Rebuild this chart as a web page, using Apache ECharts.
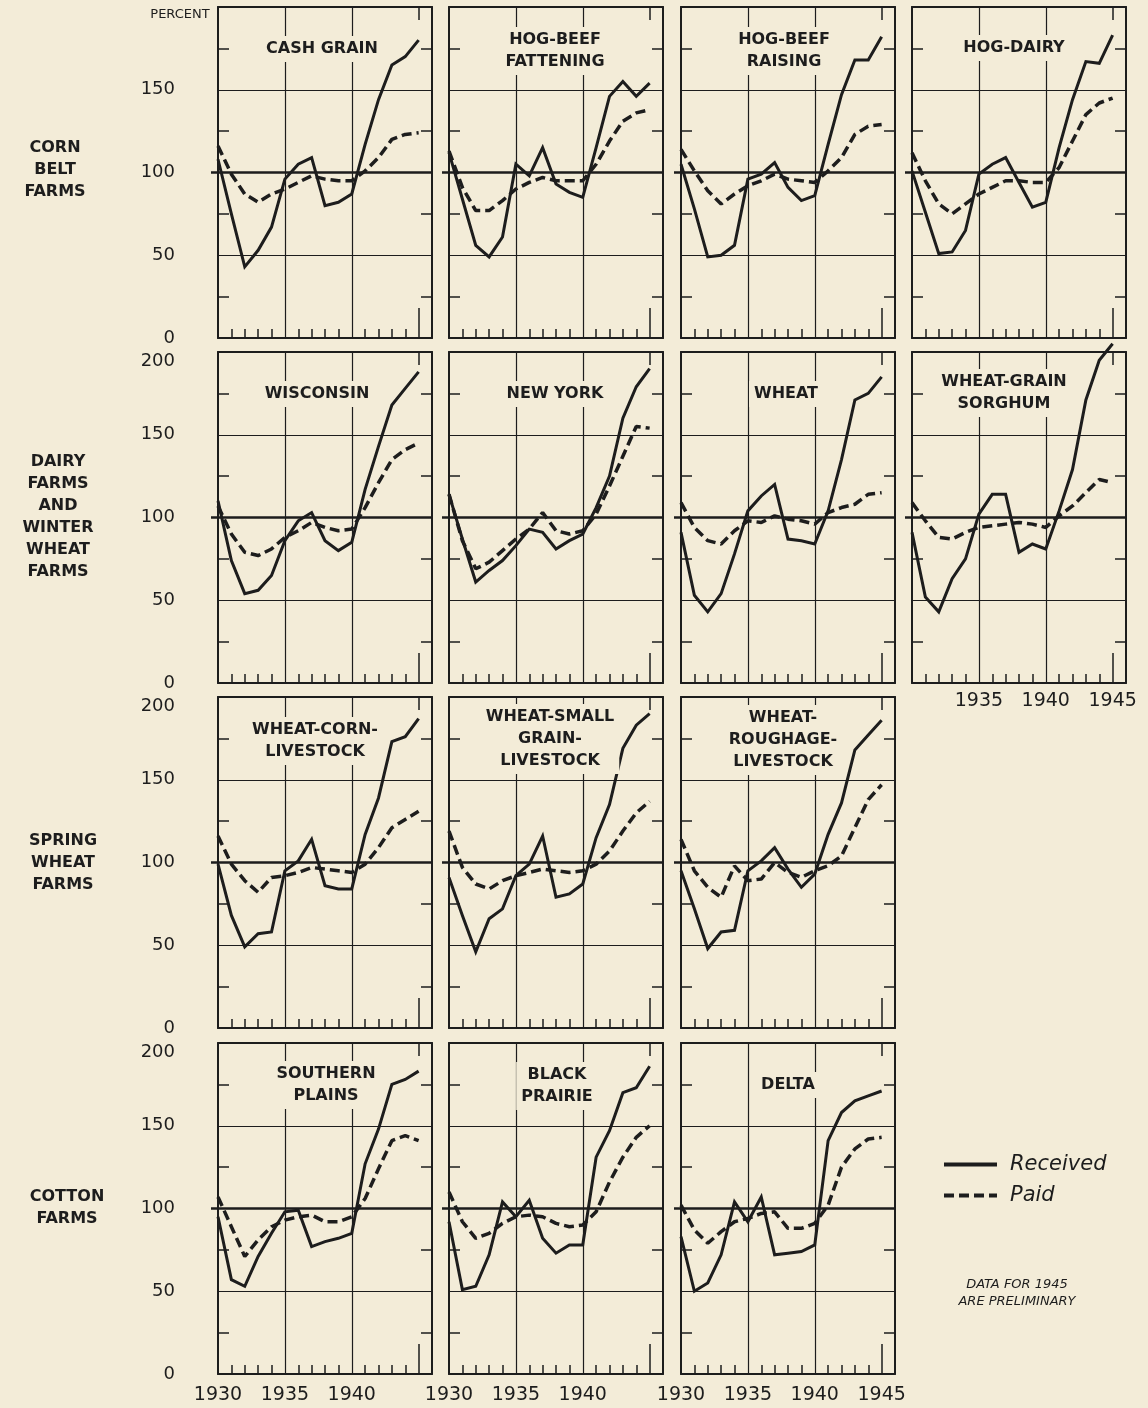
<!DOCTYPE html>
<html>
<head>
<meta charset="utf-8">
<script src="https://cdn.jsdelivr.net/npm/echarts@6/dist/echarts.min.js"></script>
<style>
html,body{margin:0;padding:0;background:#f3ecd8;}
#chart{width:1148px;height:1408px;}
</style>
</head>
<body>
<div id="chart"></div>
<script>
// ---------------- DATA ----------------
const years = [1930,1931,1932,1933,1934,1935,1936,1937,1938,1939,1940,1941,1942,1943,1944,1945];

const cashGrainReceived = [108, 75, 43, 53, 67, 96, 105, 109, 80, 82, 87, 117, 144, 165, 170, 180];
const cashGrainPaid     = [116, 99, 87, 82, 87, 90, 94, 98, 96, 95, 95, 101, 109, 120, 123, 124];

const hogBeefFatteningReceived = [112, 84, 56, 49, 61, 105, 98, 115, 93, 88, 85, 115, 146, 155, 146, 154];
const hogBeefFatteningPaid     = [113, 91, 77, 77, 83, 90, 94, 97, 95, 95, 95, 105, 119, 131, 136, 138];

const hogBeefRaisingReceived = [105, 78, 49, 50, 56, 96, 99, 106, 91, 83, 86, 117, 147, 168, 168, 182];
const hogBeefRaisingPaid     = [114, 101, 89, 81, 87, 92, 95, 99, 96, 95, 94, 101, 109, 123, 128, 129];

const hogDairyReceived = [101, 76, 51, 52, 65, 99, 105, 109, 94, 79, 82, 115, 144, 167, 166, 183];
const hogDairyPaid     = [112, 95, 81, 75, 81, 87, 91, 95, 95, 94, 94, 103, 119, 135, 142, 145];

const wisconsinReceived = [110, 74, 54, 56, 65, 86, 98, 103, 86, 80, 85, 117, 143, 168, 178, 188];
const wisconsinPaid     = [107, 90, 79, 77, 81, 88, 92, 97, 94, 92, 93, 106, 121, 135, 141, 145];

const newYorkReceived = [114, 87, 61, 68, 74, 83, 93, 91, 81, 86, 90, 106, 125, 160, 179, 190];
const newYorkPaid     = [114, 86, 69, 73, 80, 87, 93, 103, 92, 90, 92, 102, 119, 137, 155, 154];

const wheatReceived = [91, 53, 43, 54, 78, 104, 113, 120, 87, 86, 84, 104, 135, 171, 175, 185];
const wheatPaid     = [109, 94, 86, 84, 92, 98, 97, 101, 99, 98, 96, 103, 106, 108, 114, 115];

const wheatGrainSorghumReceived = [91, 52, 43, 63, 75, 102, 114, 114, 79, 84, 81, 104, 129, 171, 195, 205];
const wheatGrainSorghumPaid     = [109, 98, 88, 87, 91, 94, 95, 96, 97, 96, 94, 101, 107, 115, 123, 121];

const wheatCornLivestockReceived = [99, 68, 49, 57, 58, 95, 101, 114, 86, 84, 84, 117, 139, 173, 176, 187];
const wheatCornLivestockPaid     = [116, 99, 89, 82, 91, 92, 94, 97, 96, 95, 94, 99, 109, 121, 126, 131];

const wheatSmallGrainLivestockReceived = [91, 68, 46, 66, 72, 92, 99, 116, 79, 81, 87, 115, 135, 169, 183, 190];
const wheatSmallGrainLivestockPaid     = [119, 97, 87, 84, 89, 92, 94, 96, 95, 94, 95, 99, 107, 119, 130, 137];

const wheatRoughageLivestockReceived = [95, 72, 48, 58, 59, 95, 101, 109, 96, 85, 93, 117, 136, 168, 177, 186];
const wheatRoughageLivestockPaid     = [114, 95, 85, 79, 98, 89, 90, 100, 94, 91, 95, 98, 104, 121, 138, 147];

const southernPlainsReceived = [95, 57, 53, 71, 85, 98, 99, 77, 80, 82, 85, 127, 148, 175, 178, 183];
const southernPlainsPaid     = [107, 89, 71, 81, 89, 93, 95, 96, 92, 92, 95, 106, 124, 141, 144, 141];

const blackPrairieReceived = [92, 51, 53, 72, 104, 95, 105, 82, 73, 78, 78, 131, 147, 170, 173, 186];
const blackPrairiePaid     = [110, 92, 82, 85, 91, 95, 96, 95, 91, 89, 90, 98, 116, 131, 143, 150];

const deltaReceived = [83, 50, 55, 72, 104, 92, 107, 72, 73, 74, 78, 141, 158, 165, 168, 171];
const deltaPaid     = [102, 87, 79, 86, 92, 94, 97, 98, 88, 88, 91, 102, 125, 136, 142, 143];

const panelTitles = [
  'CASH GRAIN', 'HOG-BEEF\nFATTENING', 'HOG-BEEF\nRAISING', 'HOG-DAIRY',
  'WISCONSIN', 'NEW YORK', 'WHEAT', 'WHEAT-GRAIN\nSORGHUM',
  'WHEAT-CORN-\nLIVESTOCK', 'WHEAT-SMALL\nGRAIN-\nLIVESTOCK', 'WHEAT-\nROUGHAGE-\nLIVESTOCK',
  'SOUTHERN\nPLAINS', 'BLACK\nPRAIRIE', 'DELTA'
];
const receivedData = [cashGrainReceived, hogBeefFatteningReceived, hogBeefRaisingReceived, hogDairyReceived,
  wisconsinReceived, newYorkReceived, wheatReceived, wheatGrainSorghumReceived,
  wheatCornLivestockReceived, wheatSmallGrainLivestockReceived, wheatRoughageLivestockReceived,
  southernPlainsReceived, blackPrairieReceived, deltaReceived];
const paidData = [cashGrainPaid, hogBeefFatteningPaid, hogBeefRaisingPaid, hogDairyPaid,
  wisconsinPaid, newYorkPaid, wheatPaid, wheatGrainSorghumPaid,
  wheatCornLivestockPaid, wheatSmallGrainLivestockPaid, wheatRoughageLivestockPaid,
  southernPlainsPaid, blackPrairiePaid, deltaPaid];

const rowLabels = ['CORN\nBELT\nFARMS', 'DAIRY\nFARMS\nAND\nWINTER\nWHEAT\nFARMS', 'SPRING\nWHEAT\nFARMS', 'COTTON\nFARMS'];
const minorTickYears = [1931,1932,1933,1934,1936,1937,1938,1939,1941,1942,1943,1944];
const gridYears = [1935, 1940];
const yMinorTicks = [25, 75, 125, 175];
const yTickLabels = [0, 50, 100, 150];
const yTopLabel = [200];
const yearLabelsA = [1930, 1935, 1940];
const yearLabelsB = [1930, 1935, 1940, 1945];
const yearLabelsC = [1935, 1940, 1945];
const seriesNames = ['Received', 'Paid'];
const noteText = 'DATA FOR 1945\nARE PRELIMINARY';

// ---------------- LAYOUT / STYLE ----------------
const BG = '#f3ecd8';
const INK = '#1d1d1d';
const FONT = '"DejaVu Sans", sans-serif';
const COL_LEFT = [218, 449, 681, 912];
const ROW_TOP = [7, 352, 697, 1043];
const PW = 214, PH = 331;
const panelPos = [[0,0],[0,1],[0,2],[0,3],[1,0],[1,1],[1,2],[1,3],[2,0],[2,1],[2,2],[3,0],[3,1],[3,2]];
const titleDX = [99,101,98,97,94,101,100,87,92,96,97,103,103,102];
const titleDY = [42,33,33,41,42,42,42,30,33,20,21,31,32,42];
const xLabelSets = {13: yearLabelsB, 11: yearLabelsA, 12: yearLabelsA, 7: yearLabelsC};
const rowLabelX = [55, 58, 63, 67];
const rowLabelY = [148, 462, 841, 1197];

const option = {
  backgroundColor: BG,
  animation: false,
  textStyle: {fontFamily: FONT},
  title: [], grid: [], xAxis: [], yAxis: [], series: [],
  legend: {
    data: seriesNames,
    orient: 'vertical',
    left: 937, top: 1149,
    itemWidth: 53, itemHeight: 16, itemGap: 10,
    itemStyle: {opacity: 0},
    lineStyle: {width: 4},
    textStyle: {fontFamily: FONT, fontStyle: 'italic', fontSize: 21, color: INK, padding: [0,0,0,8]},
    selectedMode: false
  },
  graphic: []
};

const yearFmt = v => String(v);

panelTitles.forEach((t, i) => {
  const r = panelPos[i][0], c = panelPos[i][1];
  const left = COL_LEFT[c], top = ROW_TOP[r];
  option.grid.push({left: left, top: top, width: PW, height: PH, containLabel: false});

  const xl = xLabelSets[i] || [];
  const xb = option.xAxis.length;
  option.xAxis.push({
    gridIndex: i, type: 'value', min: 1930, max: 1946, position: 'bottom',
    axisLine: {show: true, onZero: false, lineStyle: {color: INK, width: 2}},
    axisTick: {show: true, inside: true, length: 9, customValues: minorTickYears, lineStyle: {color: INK, width: 1.5}},
    axisLabel: {show: xl.length > 0, customValues: xl, formatter: yearFmt, margin: (i === 7 ? 9 : 12), fontSize: 19, color: INK, fontFamily: FONT},
    splitLine: {show: false}
  });
  option.xAxis.push({
    gridIndex: i, type: 'value', min: 1930, max: 1946, position: 'bottom',
    axisLine: {show: false, onZero: false},
    axisTick: {show: true, inside: true, length: 30, customValues: [1945], lineStyle: {color: INK, width: 1.5}},
    axisLabel: {show: false}, splitLine: {show: false}
  });
  option.xAxis.push({
    gridIndex: i, type: 'value', min: 1930, max: 1946, position: 'top',
    axisLine: {show: true, onZero: false, lineStyle: {color: INK, width: 2}},
    axisTick: {show: true, inside: true, length: 13, customValues: [1945], lineStyle: {color: INK, width: 1.5}},
    axisLabel: {show: false}, splitLine: {show: false}
  });

  const yb = option.yAxis.length;
  option.yAxis.push({
    gridIndex: i, type: 'value', min: 0, max: 200, position: 'left',
    axisLine: {show: true, onZero: false, lineStyle: {color: INK, width: 2}},
    axisTick: {show: true, inside: true, length: 11, customValues: yMinorTicks, lineStyle: {color: INK, width: 1.5}},
    axisLabel: {show: c === 0, customValues: yTickLabels, margin: 43, fontSize: 18, color: INK, fontFamily: FONT},
    splitLine: {show: false}
  });
  option.yAxis.push({
    gridIndex: i, type: 'value', min: 0, max: 200, position: 'right',
    axisLine: {show: true, onZero: false, lineStyle: {color: INK, width: 2}},
    axisTick: {show: true, inside: true, length: 11, customValues: yMinorTicks, lineStyle: {color: INK, width: 1.5}},
    axisLabel: {show: false}, splitLine: {show: false}
  });
  option.yAxis.push({
    gridIndex: i, type: 'value', min: 0, max: 200, position: 'left',
    axisLine: {show: false, onZero: false},
    axisTick: {show: true, inside: false, length: 7, customValues: [100], lineStyle: {color: INK, width: 2.5}},
    axisLabel: {show: c === 0 && r > 0, customValues: yTopLabel, verticalAlign: 'top', margin: 43, fontSize: 18, color: INK, fontFamily: FONT},
    splitLine: {show: false}
  });

  option.title.push({
    text: t,
    left: left + titleDX[i],
    top: top + titleDY[i] - 13,
    textAlign: 'center',
    backgroundColor: BG,
    padding: [2, 5],
    textStyle: {fontFamily: FONT, fontWeight: 'bold', fontSize: 16, lineHeight: 22, color: INK}
  });

  const toPairs = arr => years.map((y, k) => [y, arr[k]]);
  option.series.push({
    name: seriesNames[0], type: 'line', xAxisIndex: xb, yAxisIndex: yb,
    data: toPairs(receivedData[i]), symbol: 'none', showSymbol: false, clip: false, z: 3,
    lineStyle: {color: INK, width: 3, type: 'solid', join: 'miter'},
    itemStyle: {color: INK},
    markLine: {
      silent: true, symbol: ['none', 'none'], z: 1, animation: false,
      label: {show: false},
      lineStyle: {color: INK, width: 1.2, type: 'solid'},
      emphasis: {disabled: true},
      data: [
        {yAxis: 50}, {yAxis: 150},
        {yAxis: 100, lineStyle: {width: 2.6, color: INK, type: 'solid'}},
        {xAxis: gridYears[0]}, {xAxis: gridYears[1]}
      ]
    }
  });
  option.series.push({
    name: seriesNames[1], type: 'line', xAxisIndex: xb, yAxisIndex: yb,
    data: toPairs(paidData[i]), symbol: 'none', showSymbol: false, clip: false, z: 3,
    lineStyle: {color: INK, width: 3.5, type: [10, 5]},
    itemStyle: {color: INK}
  });
});

option.graphic.push({
  type: 'text', x: 180, y: 15,
  style: {text: 'PERCENT', align: 'center', verticalAlign: 'middle', fontSize: 13, fontFamily: FONT, fill: INK}
});
rowLabels.forEach((t, r) => {
  option.graphic.push({
    type: 'text', x: rowLabelX[r], y: rowLabelY[r] - 11,
    style: {text: t, align: 'center', verticalAlign: 'top', fontSize: 16, fontWeight: 'bold', lineHeight: 22, fontFamily: FONT, fill: INK}
  });
});
option.graphic.push({
  type: 'text', x: 1017, y: 1276,
  style: {text: noteText, align: 'center', verticalAlign: 'top', fontSize: 13, fontStyle: 'italic', lineHeight: 17, fontFamily: FONT, fill: INK}
});

const chart = echarts.init(document.getElementById('chart'), null, {renderer: 'canvas'});
chart.setOption(option);
</script>
</body>
</html>
